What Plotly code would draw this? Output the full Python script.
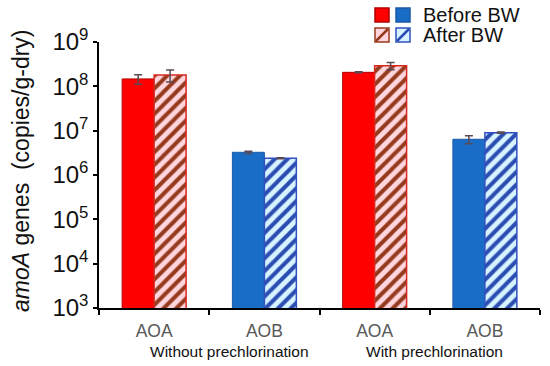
import plotly.graph_objects as go

# ---- data ----
categories = ["AOA", "AOB", "AOA", "AOB"]
groups = ["Without prechlorination", "With prechlorination"]
before_bw = [1.47e8, 3.25e6, 2.07e8, 6.4e6]
before_err = [0.36e8, 0.2e6, 0.05e8, 1.3e6]
after_bw = [1.8e8, 2.38e6, 2.92e8, 9.0e6]
after_err = [0.55e8, 0.06e6, 0.55e8, 0.3e6]
ytick_exps = [3, 4, 5, 6, 7, 8, 9]

# ---- styles ----
FONT = "Arial, Liberation Sans, sans-serif"
solid_col = ["#FF0000", "#1A6DC6", "#FF0000", "#1A6DC6"]
solid_line = ["#B00000", "#1A5AA8", "#B00000", "#1A5AA8"]
AOA_BG, AOA_FG, AOA_LINE = "#FFD6DE", "#963A1E", "#D8281E"
AOB_BG, AOB_FG, AOB_LINE = "#D6F3FF", "#2B4DB2", "#3050C0"
ERR = "#5a4a56"

x = list(range(len(categories)))
aoa_idx = [i for i, c in enumerate(categories) if c == "AOA"]
aob_idx = [i for i, c in enumerate(categories) if c == "AOB"]

fig = go.Figure()
fig.add_trace(go.Bar(
    x=x, y=before_bw, name="Before BW", offsetgroup="before",
    marker=dict(color=solid_col, line=dict(color=solid_line, width=1)),
    error_y=dict(type="data", array=before_err, color=ERR, thickness=1.5, width=4),
    showlegend=False,
))
for idx, bg, fg, ln in [(aoa_idx, AOA_BG, AOA_FG, AOA_LINE), (aob_idx, AOB_BG, AOB_FG, AOB_LINE)]:
    fig.add_trace(go.Bar(
        x=[x[i] for i in idx], y=[after_bw[i] for i in idx], name="After BW",
        offsetgroup="after",
        marker=dict(color=bg, line=dict(color=ln, width=1.5),
                    pattern=dict(shape="/", fgcolor=fg, bgcolor=bg, fgopacity=1,
                                 size=9, solidity=0.45, fillmode="replace")),
        error_y=dict(type="data", array=[after_err[i] for i in idx], color=ERR,
                     thickness=1.5, width=4),
        showlegend=False,
    ))

# plot-area pixel geometry
L, R, T, B = 99, 540, 42, 308
W, H = 550, 366


def px(xp):
    return (xp - L) / (R - L)


def py(yp):
    return (B - yp) / (B - T)


shapes = []
annotations = []


def swatch(x0, y0, size, fill, line, hatch=None):
    shapes.append(dict(type="rect", xref="paper", yref="paper",
                       x0=px(x0), x1=px(x0 + size), y0=py(y0 + size), y1=py(y0),
                       fillcolor=fill, line=dict(color=line, width=1.5)))
    if hatch:
        shapes.append(dict(type="line", xref="paper", yref="paper",
                           x0=px(x0 + 1), y0=py(y0 + size - 1), x1=px(x0 + size - 1), y1=py(y0 + 1),
                           line=dict(color=hatch, width=2.5)))


swatch(375, 8, 14, "#FF0000", "#B00000")
swatch(396, 8, 14, "#1A6DC6", "#1A5AA8")
swatch(375, 28, 14, AOA_BG, AOA_FG, hatch=AOA_FG)
swatch(396, 28, 14, AOB_BG, AOB_LINE, hatch=AOB_FG)
annotations.append(dict(text="Before BW", xref="paper", yref="paper", x=px(421), y=py(15),
                        xanchor="left", yanchor="middle", showarrow=False,
                        font=dict(size=20, color="#111111", family=FONT)))
annotations.append(dict(text="After BW", xref="paper", yref="paper", x=px(421), y=py(35),
                        xanchor="left", yanchor="middle", showarrow=False,
                        font=dict(size=20, color="#111111", family=FONT)))

# group labels
annotations.append(dict(text=groups[0], xref="paper", yref="paper", x=px(229.5), y=py(352),
                        xanchor="center", yanchor="middle", showarrow=False,
                        font=dict(size=15.5, color="#111111", family=FONT)))
annotations.append(dict(text=groups[1], xref="paper", yref="paper", x=px(434), y=py(352),
                        xanchor="center", yanchor="middle", showarrow=False,
                        font=dict(size=15.5, color="#111111", family=FONT)))

# y title
annotations.append(dict(text="<i>amoA</i> genes  (copies/g-dry)", xref="paper", yref="paper",
                        x=px(21), y=py(171), xanchor="center", yanchor="middle",
                        textangle=-90, showarrow=False,
                        font=dict(size=23, color="#111111", family=FONT)))

fig.update_layout(
    width=W, height=H,
    margin=dict(l=L, r=W - R, t=T, b=H - B),
    paper_bgcolor="white", plot_bgcolor="white",
    barmode="group", bargap=0.42, bargroupgap=0,
    font=dict(family=FONT, color="#111111"),
    shapes=shapes, annotations=annotations,
    showlegend=False,
)
fig.update_xaxes(
    range=[-0.5, len(categories) - 0.5],
    tickvals=x, ticktext=categories, ticks="", ticklen=0,
    tickfont=dict(size=17.5, color="#595959", family=FONT),
    showline=True, linecolor="black", linewidth=1.5, showgrid=False, zeroline=False,
    minor=dict(tickvals=[i - 0.5 for i in range(len(categories) + 1)],
               ticks="outside", ticklen=5, tickcolor="black", tickwidth=1.5, showgrid=False),
    ticklabelstandoff=6, automargin=False,
)
fig.update_yaxes(
    type="log", range=[ytick_exps[0], ytick_exps[-1]],
    tickvals=[10 ** e for e in ytick_exps],
    ticktext=[f"10<sup>{e}</sup>" for e in ytick_exps],
    ticks="outside", ticklen=4, tickcolor="black", tickwidth=1.5,
    tickfont=dict(size=24, color="#111111", family=FONT),
    showline=True, linecolor="black", linewidth=1.5, showgrid=False, zeroline=False,
    automargin=False,
)

fig.write_html("out.html", config={"displayModeBar": False},
               post_script="document.body.style.margin='0';")
